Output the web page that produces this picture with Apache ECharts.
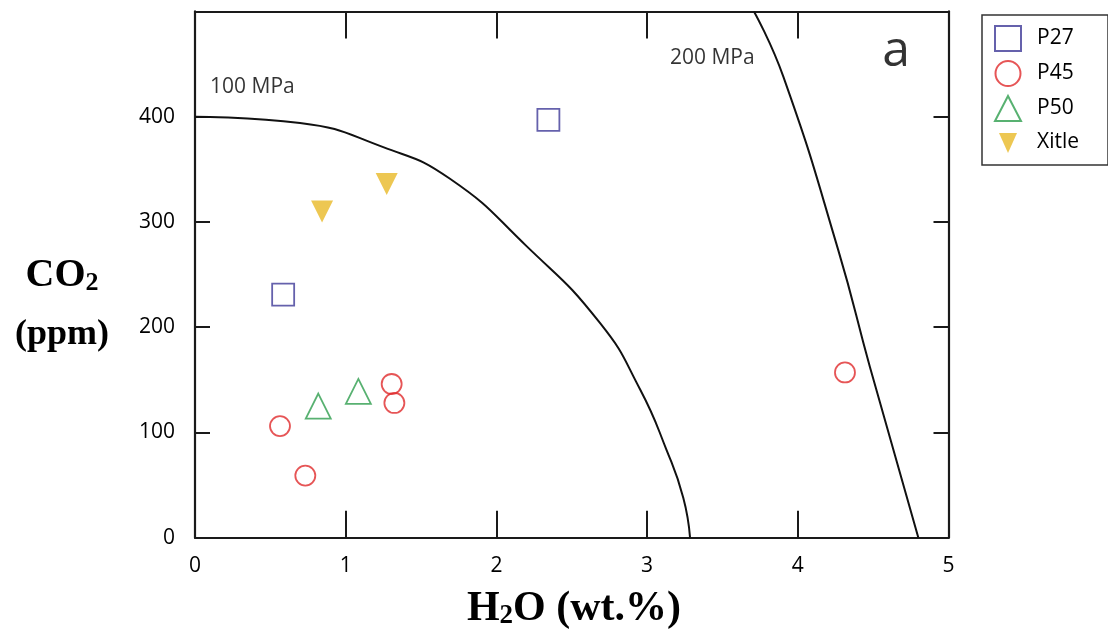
<!DOCTYPE html>
<html>
<head>
<meta charset="utf-8">
<script src="https://cdn.jsdelivr.net/npm/echarts@6/dist/echarts.min.js"></script>
<style>
  html, body { margin: 0; padding: 0; background: #fff; }
  #chart { width: 1108px; height: 632px; }
</style>
</head>
<body>
<div id="chart"></div>
<script>
// samples: [H2O wt.%, CO2 ppm]
var p27 = [[0.585, 231], [2.345, 397]];
var p45 = [[0.564, 106], [0.732, 59], [1.305, 146], [1.323, 128], [4.313, 157]];
var p50 = [[0.818, 125], [1.084, 139]];
var xitle = [[0.843, 310], [1.272, 336]];

// isobars
var iso100 = [[0, 400], [0.697, 394], [1.249, 371], [1.692, 341], [2.2, 277],
              [2.687, 204], [2.953, 141], [3.13, 83], [3.24, 38], [3.285, 0]];
var iso200 = [[3.709, 500], [3.904, 438], [4.269, 273], [4.479, 162], [4.8, 0]];

// text annotations [x, y, text]
var notes = [[0.1, 428, '100 MPa'], [3.152, 456, '200 MPa']];
var panelTag = [[4.56, 462, 'a']];

var xTicks = [0, 1, 2, 3, 4, 5];
var yTicks = [0, 100, 200, 300, 400];

var sans = '"Open Sans", "Noto Sans", sans-serif';
var serif = '"Liberation Serif", "DejaVu Serif", serif';
var ink = '#000';

var chart = echarts.init(document.getElementById('chart'));

function scatter(name, data, symbol, color, fill, size, rotate) {
    return {
        name: name, type: 'scatter', data: data, symbol: symbol,
        symbolSize: size, symbolRotate: rotate || 0,
        itemStyle: { color: fill, borderColor: color, borderWidth: fill === color ? 0 : 1.8 },
        emphasis: { disabled: true }, z: 5
    };
}

function isobar(data) {
    return {
        type: 'line', data: data, smooth: 0.5, showSymbol: false, silent: true,
        lineStyle: { color: '#111', width: 2 }, z: 3
    };
}

var frameAxis = { show: true, onZero: false, lineStyle: { color: '#1a1a1a', width: 2.2 } };

var option = {
    animation: false,
    backgroundColor: '#fff',
    grid: { left: 195, right: 159.5, top: 11.4, bottom: 94.3 },
    xAxis: [
        {
            type: 'value', min: 0, max: 5, interval: 1, position: 'bottom',
            axisLine: frameAxis,
            axisTick: { inside: true, length: 27, lineStyle: { color: '#1a1a1a', width: 2 } },
            axisLabel: { margin: 18, fontFamily: sans, fontSize: 21, color: ink,
                formatter: function (v) { return xTicks.indexOf(v) >= 0 ? String(v) : ''; } },
            splitLine: { show: false }
        },
        {
            type: 'value', min: 0, max: 5, interval: 1, position: 'top',
            axisLine: frameAxis,
            axisTick: { inside: true, length: 27, lineStyle: { color: '#1a1a1a', width: 2 } },
            axisLabel: { show: false }, splitLine: { show: false }
        }
    ],
    yAxis: [
        {
            type: 'value', min: 0, max: 500, interval: 100, position: 'left',
            axisLine: frameAxis,
            axisTick: { inside: true, length: 15, lineStyle: { color: '#1a1a1a', width: 2 } },
            axisLabel: { margin: 20, fontFamily: sans, fontSize: 21, color: ink,
                formatter: function (v) { return yTicks.indexOf(v) >= 0 ? String(v) : ''; } },
            splitLine: { show: false }
        },
        {
            type: 'value', min: 0, max: 500, interval: 100, position: 'right',
            axisLine: frameAxis,
            axisTick: { inside: true, length: 15, lineStyle: { color: '#1a1a1a', width: 2 } },
            axisLabel: { show: false }, splitLine: { show: false }
        }
    ],
    legend: {
        orient: 'vertical', left: 982, top: 15,
        data: [
            'P27', 'P45', 'P50',
            // inverted triangle, drawn a little smaller than the others
            { name: 'Xitle', icon: 'path://M0,0M26,25M4,3L22,3L13,23Z' }
        ],
        itemWidth: 26, itemHeight: 25, itemGap: 8,
        padding: [10, 29, 10, 12],
        borderColor: '#333', borderWidth: 1.5,
        textStyle: { fontFamily: sans, fontSize: 21, color: ink, padding: [0, 0, 0, 11] },
        selectedMode: false
    },
    series: [
        isobar(iso100),
        isobar(iso200),
        scatter('P27', p27, 'rect', '#3e3a97', 'rgba(255,255,255,0)', 22),
        scatter('P45', p45, 'circle', '#e02a2c', 'rgba(255,255,255,0)', 20),
        scatter('P50', p50, 'triangle', '#2e9d4e', 'rgba(255,255,255,0)', 25),
        scatter('Xitle', xitle, 'triangle', '#e8b927', '#e8b927', 22, 180),
        {
            type: 'scatter', data: notes, symbolSize: 0, silent: true,
            label: { show: true, position: 'right', distance: 0, fontFamily: sans, fontSize: 21, color: ink,
                formatter: function (p) { return p.data[2]; } }
        },
        {
            type: 'scatter', data: panelTag, symbolSize: 0, silent: true,
            label: { show: true, position: 'right', distance: 0, fontFamily: sans, fontSize: 50, color: ink,
                formatter: function (p) { return p.data[2]; } }
        }
    ],
    graphic: [
        {
            type: 'text', x: 62, y: 256, silent: true,
            style: {
                text: '{m|CO}{s|2}\n{p|(ppm)}', align: 'center', verticalAlign: 'top',
                rich: {
                    m: { fontFamily: serif, fontWeight: 'bold', fontSize: 40, lineHeight: 40, verticalAlign: 'top', fill: ink },
                    s: { fontFamily: serif, fontWeight: 'bold', fontSize: 26, lineHeight: 24, verticalAlign: 'bottom', fill: ink },
                    p: { fontFamily: serif, fontWeight: 'bold', fontSize: 36, lineHeight: 78, fill: ink }
                }
            }
        },
        {
            type: 'text', x: 574, y: 588, silent: true,
            style: {
                text: '{m|H}{s|2}{m|O (wt.%)}', align: 'center', verticalAlign: 'top',
                rich: {
                    m: { fontFamily: serif, fontWeight: 'bold', fontSize: 42, lineHeight: 42, verticalAlign: 'top', fill: ink },
                    s: { fontFamily: serif, fontWeight: 'bold', fontSize: 27, lineHeight: 18, verticalAlign: 'bottom', fill: ink }
                }
            }
        }
    ]
};

chart.setOption(option);
</script>
</body>
</html>
